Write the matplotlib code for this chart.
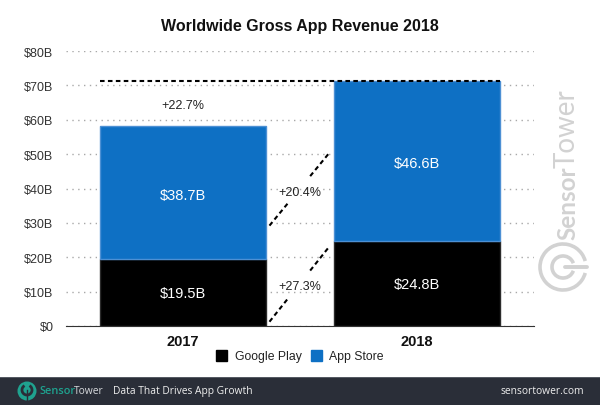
"""Worldwide gross app revenue, stacked bars with growth connectors."""
import matplotlib

matplotlib.use("Agg")
import matplotlib.pyplot as plt
from matplotlib.patches import Arc, Circle, Rectangle

years = ["2017", "2018"]
google_play = [19.5, 24.8]
app_store = [38.7, 46.6]
y_ticks = [0, 10, 20, 30, 40, 50, 60, 70, 80]
y_labels = ["$0", "$10B", "$20B", "$30B", "$40B", "$50B", "$60B", "$70B", "$80B"]
google_labels = ["$19.5B", "$24.8B"]
app_labels = ["$38.7B", "$46.6B"]
total_growth = "+22.7%"
app_growth = "+20.4%"
google_growth = "+27.3%"
app_connector = [28.0, 52.0]

BLUE = "#0e70c4"
BLACK = "#000000"
FOOTER = "#2a2e38"
TEAL = "#1fa28f"
WATERMARK = "#d2d2d2"
W, H = 600, 406
BAR_WIDTH = 0.71

plt.rcParams["font.family"] = ["Liberation Sans", "DejaVu Sans"]

fig = plt.figure(figsize=(W / 100, H / 100), dpi=100)
ax = fig.add_axes([66 / W, 1 - 327 / H, 468 / W, 275 / H])

x = range(len(years))
ax.bar(x, google_play, BAR_WIDTH, color=BLACK, edgecolor="#2b2b2b", linewidth=1, zorder=3)
ax.bar(x, app_store, BAR_WIDTH, bottom=google_play, color=BLUE, edgecolor="#4d90d4", linewidth=1, zorder=3)
# white halo so the gridlines stop short of the bars
ax.bar(x, [g + a for g, a in zip(google_play, app_store)], BAR_WIDTH + 0.022, color="white", zorder=2)

ax.set_xlim(-0.5, 1.5)
ax.set_ylim(0, 80)
ax.set_xticks(list(x), years, fontsize=10.5, fontweight="bold", color="#111111")
ax.set_yticks(y_ticks, y_labels, fontsize=9, color="#333333")
ax.tick_params(axis="both", length=0)
ax.tick_params(axis="x", pad=6)
ax.tick_params(axis="y", pad=9)
for name in ["top", "left", "right"]:
    ax.spines[name].set_visible(False)
ax.spines["bottom"].set_color("#333333")
ax.spines["bottom"].set_zorder(5)
ax.yaxis.grid(True, color="#a8a8a8", linewidth=1, linestyle=(0, (1, 3.2)), zorder=1)
ax.set_axisbelow(True)

for i in x:
    ax.text(i, google_play[i] / 2 - 0.1, google_labels[i], color="white", fontsize=10.5, ha="center", va="center", zorder=6)
    ax.text(i, google_play[i] + app_store[i] / 2 - 0.6, app_labels[i], color="white", fontsize=10.5, ha="center", va="center", zorder=6)

# growth connectors, broken in the middle for the label
left = BAR_WIDTH / 2
right = 1 - BAR_WIDTH / 2
dash = (0, (2.2, 1.6))


def connector(y0, y1, label):
    for f0, f1 in [(0.05, 0.33), (0.65, 0.94)]:
        xs = [left + (right - left) * f0, left + (right - left) * f1]
        ys = [y0 + (y1 - y0) * f0, y0 + (y1 - y0) * f1]
        ax.plot(xs, ys, color=BLACK, linewidth=1.5, linestyle=dash, zorder=4)
    ax.text(0.5, (y0 + y1) / 2 - 0.9, label, fontsize=9, color="#222222", ha="center", va="center", zorder=6)


connector(app_connector[0], app_connector[1], app_growth)
connector(0, google_play[1], google_growth)

total = google_play[1] + app_store[1]
ax.plot([-BAR_WIDTH / 2, 1 + BAR_WIDTH / 2], [total, total], color=BLACK, linewidth=1.5, linestyle=dash, zorder=5)
ax.text(0, 64.2, total_growth, fontsize=9, color="#222222", ha="center", va="center")

# page furniture is placed in pixel coordinates on a full-figure overlay
top = fig.add_axes([0, 0, 1, 1], zorder=10)
top.set_xlim(0, W)
top.set_ylim(H, 0)
top.axis("off")
top.patch.set_alpha(0)

top.text(299.5, 26, "Worldwide Gross App Revenue 2018", fontsize=11.5, fontweight="bold", color="#111111", ha="center", va="center")

top.add_patch(Rectangle((216, 351), 11, 11, color=BLACK))
top.text(235, 357, "Google Play", fontsize=8.8, color="#222222", va="center")
top.add_patch(Rectangle((311, 351), 11, 11, color=BLUE))
top.text(329, 357, "App Store", fontsize=8.8, color="#222222", va="center")

top.add_patch(Rectangle((0, 379), W, 27, color=FOOTER, lw=0))
top.add_patch(Rectangle((0, 378), W, 1.2, color="#555a63", lw=0))
top.add_patch(Circle((27, 392), 9.5, color=TEAL, lw=0))
top.add_patch(Arc((27, 391), 10, 10, theta1=-60, theta2=240, color=FOOTER, lw=2))
top.plot([27, 27], [391, 401], color=FOOTER, lw=1)
footer_font = dict(va="center", family="Open Sans")
top.text(39, 392, "Sensor", color=TEAL, fontweight="semibold", fontsize=7.9, **footer_font)
top.text(74, 392, "Tower", color="#d8dadd", fontsize=7.4, **footer_font)
top.text(113, 392, "Data That Drives App Growth", color="#eeeeee", fontsize=7.4, **footer_font)
top.text(584, 392, "sensortower.com", color="#eeeeee", ha="right", fontsize=7.4, **footer_font)

# rotated watermark
mark_font = dict(color=WATERMARK, rotation=90, ha="left", va="baseline", rotation_mode="anchor", family="Lato")
top.text(575, 240, "Sensor", fontweight="bold", fontsize=17.5, **mark_font)
top.text(575, 168, "Tower", fontsize=20, **mark_font)
top.add_patch(Arc((563, 268), 46, 46, theta1=15, theta2=345, color=WATERMARK, lw=2.6))
top.add_patch(Arc((563, 268), 22, 22, theta1=20, theta2=340, color=WATERMARK, lw=2.6))
top.plot([565, 587], [268, 268], color=WATERMARK, lw=2.8, solid_capstyle="round")

fig.savefig("out.png", dpi=100)
